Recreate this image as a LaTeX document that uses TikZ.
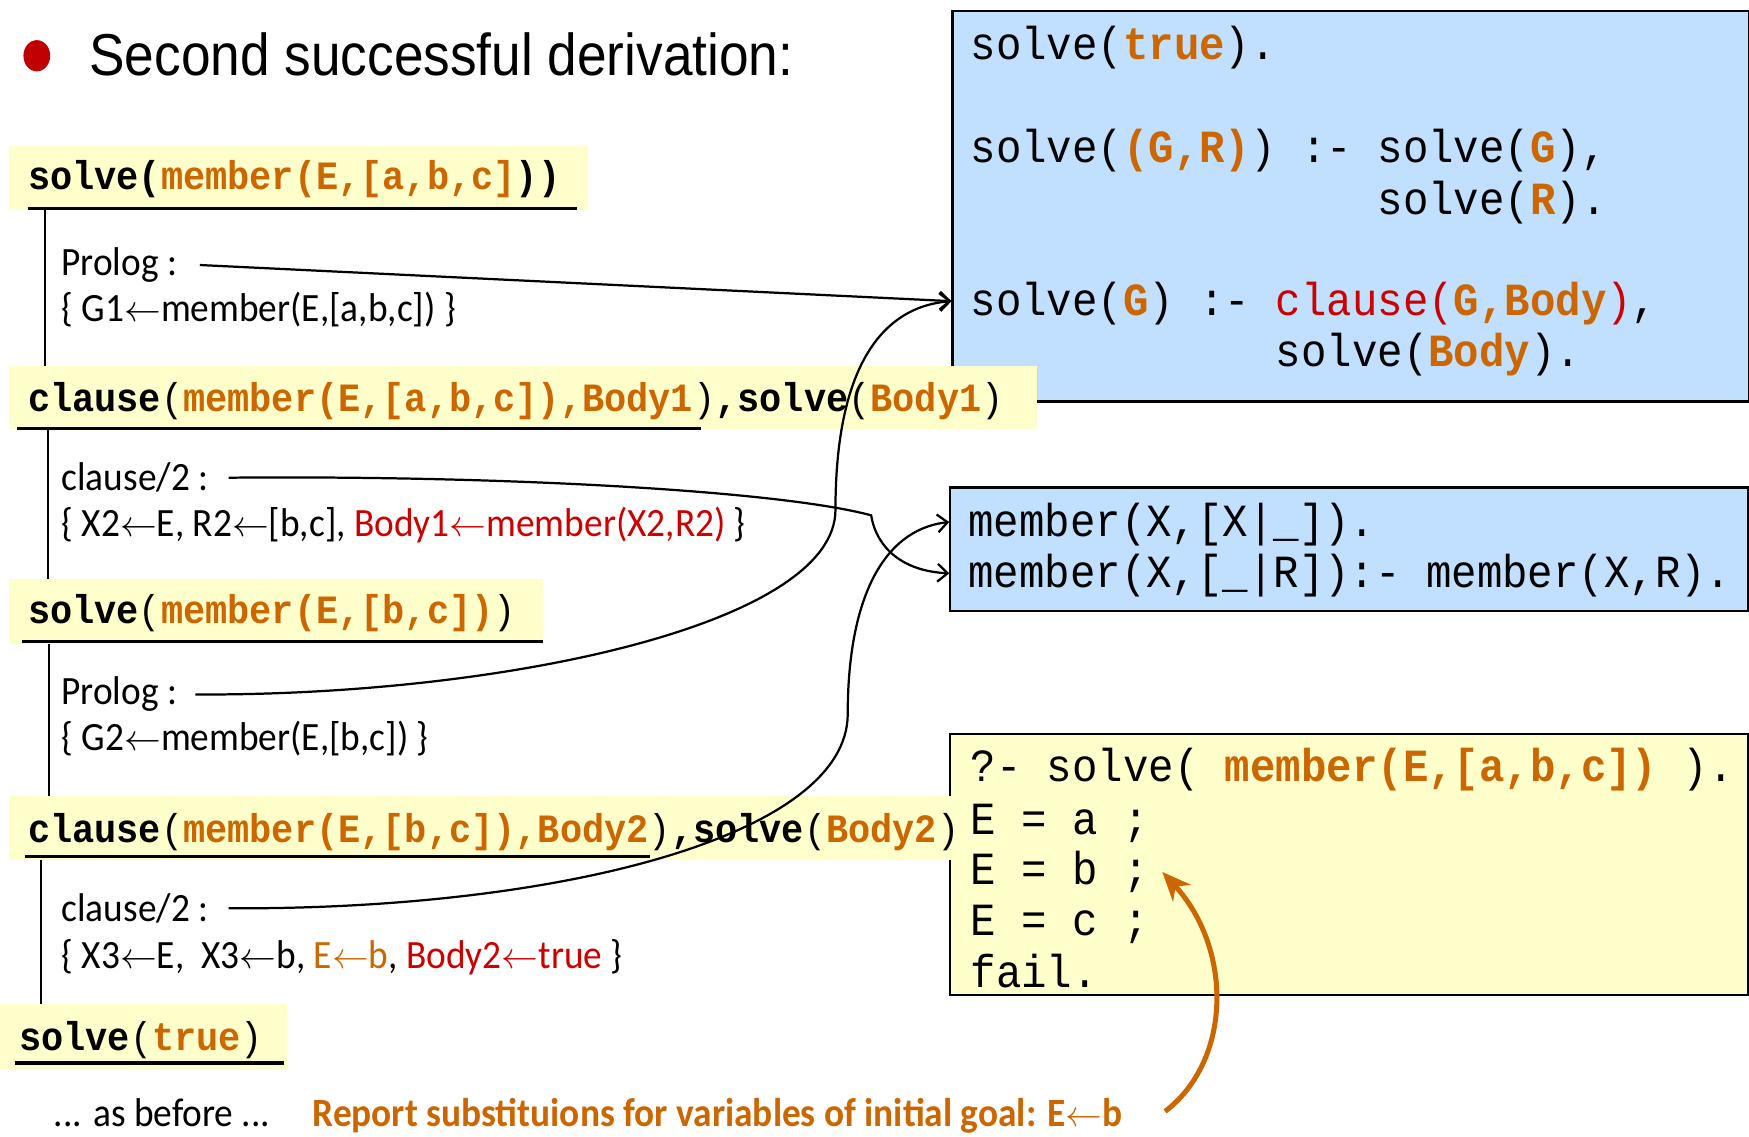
\RequirePackage{fix-cm}
\documentclass[tikz,border=0pt]{standalone}
\usepackage{fontspec}
\setmainfont{Carlito}[FakeStretch=0.93]
\newfontfamily\titlefont{Liberation Sans}[FakeStretch=0.9]
\newfontfamily\monofont{Liberation Mono}[FakeStretch=0.92]
\usetikzlibrary{arrows.meta}
\definecolor{porange}{RGB}{204,102,0}
\definecolor{pred}{RGB}{204,0,0}
\definecolor{pyellow}{RGB}{255,255,204}
\definecolor{pblue}{RGB}{193,224,255}
\definecolor{bulletred}{RGB}{192,0,0}
\newcommand\og[1]{\textcolor{porange}{\bfseries #1}}
\newcommand\rd[1]{\textcolor{pred}{#1}}
\newcommand\np[1]{{\mdseries #1}}
\newcommand\la{{\fontsize{33}{33}\selectfont$\leftarrow$}}
\newcommand\barfont{\monofont\bfseries\fontsize{36}{36}\selectfont}
\newcommand\codefont{\monofont\fontsize{41.3}{41.3}\selectfont}
\newcommand\lblfont{\fontsize{36}{36}\selectfont}
\begin{document}
\begin{tikzpicture}[x=1pt,y=-1pt,
  lbl/.style={anchor=base west, inner sep=0pt, font=\lblfont},
  bartext/.style={anchor=base west, inner sep=0pt, font=\barfont},
  codetxt/.style={anchor=base west, inner sep=0pt, font=\codefont},
  codebox/.style={draw=black, line width=2pt, anchor=north west, inner sep=0pt},
  uline/.style={line width=2.8pt},
  vline/.style={line width=2pt},
  conn/.style={line width=2pt, -{Straight Barb[length=9pt,width=16pt]}},
  orarrow/.style={line width=4.5pt, porange, -{Stealth[length=26pt,width=22pt]}}]
\useasboundingbox (0,0) rectangle (1568,1018.5);

% title
\fill[bulletred] (33,50) ellipse [x radius=12, y radius=14];
\node[anchor=base west, inner sep=0pt, font=\titlefont\fontsize{53}{53}\selectfont] (title) at (80,68) {Second successful derivation:};

% right boxes
\node[codebox, fill=pblue, minimum width=714pt, minimum height=350pt] (box1) at (853,9) {};
\node[codebox, fill=pblue, minimum width=715pt, minimum height=111pt] (box2) at (851,436) {};
\node[codebox, fill=pyellow, minimum width=715pt, minimum height=234pt] (box3) at (851,657) {};

\node[codetxt] (r1) at (870,53) {solve(\og{true}).};
\node[codetxt] (r2) at (870,146) {solve(\og{(G,R)}) :- solve(\og{G}),};
\node[codetxt] (r3) at (870,192) {\phantom{solve((G,R)) :-} solve(\og{R}).};
\node[codetxt] (r4) at (870,283) {solve(\og{G}) :- \rd{clause(}\og{G,Body}\rd{)},};
\node[codetxt] (r5) at (870,329) {\phantom{solve(G) :-} solve(\og{Body}).};

\node[codetxt] (m1) at (868,481) {member(X,[X|\_]).};
\node[codetxt] (m2) at (868,527) {member(X,[\_|R]):- member(X,R).};

\node[codetxt] (q1) at (870,701) {?- solve( \og{member(E,[a,b,c])} ).};
\node[codetxt] (q2) at (870,748) {E = a ;};
\node[codetxt] (q3) at (870,793) {E = b ;};
\node[codetxt] (q4) at (870,839) {E = c ;};
\node[codetxt] (q5) at (870,885) {fail.};

% left derivation bars
\fill[pyellow] (8,131) rectangle (527,188);
\fill[pyellow] (8,328) rectangle (930,385);
\fill[pyellow] (8,519) rectangle (487,577);
\fill[pyellow] (8,714) rectangle (870,771);
\fill[pyellow] (0,900) rectangle (257,958);

\node[bartext] (b1) at (25,170) {solve(\og{member(E,[a,b,c]}))};
\node[bartext] (b2) at (25,369) {clause\np{(}\og{member(E,[a,b,c]),Body1}\np{)},solve\np{(}\og{Body1}\np{)}};
\node[bartext] (b3) at (25,559) {solve\np{(}\og{member(E,[b,c])}\np{)}};
\node[bartext] (b4) at (25,755) {clause\np{(}\og{member(E,[b,c]),Body2}\np{)},solve\np{(}\og{Body2}\np{)}};
\node[bartext] (b5) at (17,942) {solve\np{(}\og{true}\np{)}};

\draw[uline] (25,187) -- (517,187);
\draw[uline] (15,384) -- (628,384);
\draw[uline] (20,575) -- (487,575);
\draw[uline] (22,768) -- (583,768);
\draw[uline] (13,953) -- (255,953);

\draw[vline] (40,188) -- (40,328);
\draw[vline] (43,385) -- (43,519);
\draw[vline] (44,577) -- (44,714);
\draw[vline] (37,771) -- (37,900);

% labels
\node[lbl] (pl1) at (55,247) {Prolog :};
\node[lbl] (g1) at (55,288) {\{ G1\la member(E,[a,b,c]) \}};
\node[lbl] (cl1) at (55,440) {clause/2 :};
\node[lbl] (x2) at (55,481) {\{ X2\la E, R2\la [b,c], \rd{Body1\la member(X2,R2)} \}};
\node[lbl] (pl2) at (55,632) {Prolog :};
\node[lbl] (g2) at (55,673) {\{ G2\la member(E,[b,c]) \}};
\node[lbl] (cl2) at (55,826) {clause/2 :};
\node[lbl] (x3) at (55,868) {\{ X3\la E,\ \ X3\la b, \textcolor{porange}{E\la b}, \rd{Body2\la true} \}};
\node[lbl] (ab) at (48,1010) {... as before ...};
\node[lbl, text=porange, font=\lblfont\bfseries] (rep) at (280,1010) {Report substituions for variables of initial goal: E\la b};

% connectors
\coordinate (t1) at (853,270);
\coordinate (t2) at (851,468);
\coordinate (t3) at (851,514);
\draw[conn] ([xshift=20pt]pl1.east) -- (t1);
\draw[conn] ([xshift=16pt]pl2.east) .. controls (450,624) and (749,560) .. (749,457) .. controls (749,330) and (790,275) .. (t1);
\draw[conn] ([xshift=18pt]cl1.east) .. controls (450,426) and (700,440) .. (781,462) .. controls (786,492) and (810,512) .. (t3);
\draw[conn] ([xshift=18pt]cl2.east) .. controls (500,816) and (760,750) .. (760,640) .. controls (760,540) and (790,475) .. (t2);
\draw[orarrow] ([xshift=38pt,yshift=4pt]rep.east) .. controls (1105,950) and (1105,850) .. ([xshift=12pt]q3.east);
\end{tikzpicture}
\end{document}
